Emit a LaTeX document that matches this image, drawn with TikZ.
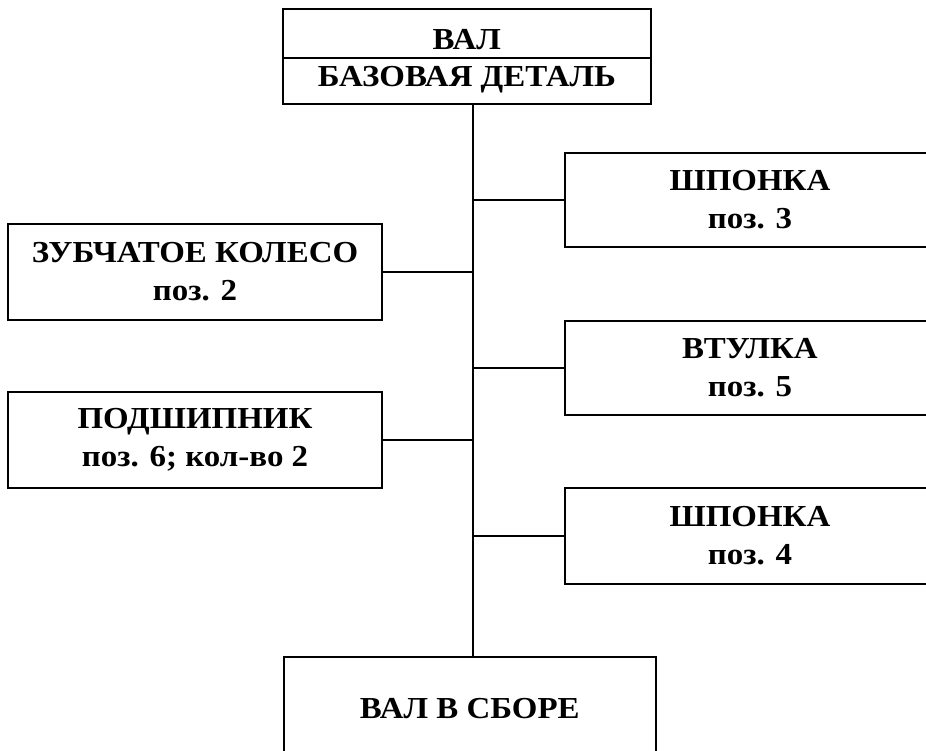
\documentclass[tikz,border=0pt]{standalone}
\usepackage{fontspec}
\setmainfont[FakeStretch=1.08]{Liberation Serif}
\usetikzlibrary{positioning,calc}

\begin{document}
\begin{tikzpicture}[x=1pt,y=-1pt,
	partbox/.style={rectangle,draw,line width=1.6pt,align=center,inner sep=0pt,
		font=\fontsize{30.5}{38}\selectfont\bfseries},
	link/.style={line width=1.6pt}]
	
	\path[use as bounding box,clip] (0,0) rectangle (926,751);
	
	% base part on top
	\node[partbox,minimum width=368,minimum height=49,text height=33.2pt,text depth=0pt,anchor=north west] (shaft) at (282,8) {ВАЛ};
	\node[partbox,minimum width=368,minimum height=46,text height=12.2pt,text depth=0pt,anchor=north west] (base) at (282,57) {БАЗОВАЯ ДЕТАЛЬ};
	
	% left parts
	\node[partbox,minimum width=374,minimum height=96] (gear) at (195,272) {ЗУБЧАТОЕ КОЛЕСО\\поз. 2};
	\node[partbox,minimum width=374,minimum height=96] (bearing) at (195,440) {ПОДШИПНИК\\поз. 6; кол-во 2};
	
	% right parts
	\node[partbox,minimum width=370,minimum height=94] (keyA) at (750,200) {ШПОНКА\\поз. 3};
	\node[partbox,minimum width=370,minimum height=94] (sleeve) at (750,368) {ВТУЛКА\\поз. 5};
	\node[partbox,minimum width=370,minimum height=96] (keyB) at (750,536) {ШПОНКА\\поз. 4};
	
	% assembled unit
	\node[partbox,minimum width=372,minimum height=104,anchor=north west] (unit) at (283,656) {ВАЛ В СБОРЕ};
	
	\coordinate (trunk) at (473,103);
	\draw[link] (trunk) -- (trunk |- unit.north);
	
	\draw[link] (gear.east) -- (gear.east -| trunk);
	\draw[link] (bearing.east) -- (bearing.east -| trunk);
	\draw[link] (keyA.west) -- (keyA.west -| trunk);
	\draw[link] (sleeve.west) -- (sleeve.west -| trunk);
	\draw[link] (keyB.west) -- (keyB.west -| trunk);
	
\end{tikzpicture}
\end{document}
